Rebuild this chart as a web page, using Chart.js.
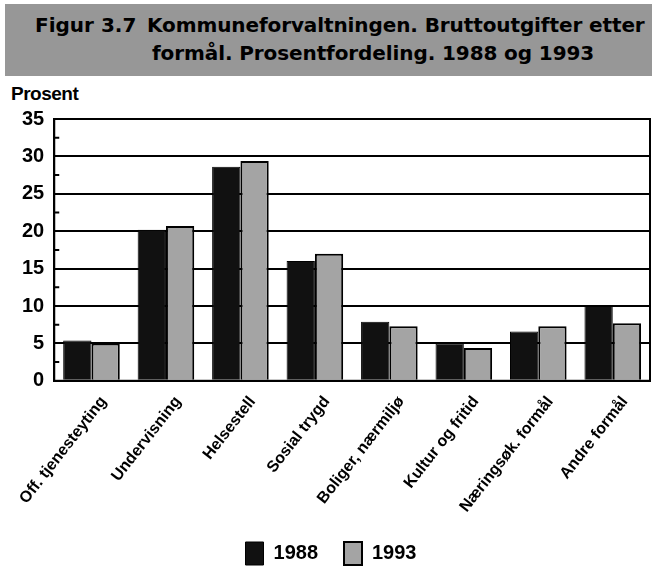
<!DOCTYPE html>
<html>
<head>
<meta charset="utf-8">
<script src="https://cdn.jsdelivr.net/npm/chart.js@4/dist/chart.umd.min.js"></script>
<style>
  body { margin: 0; background: #fff; width: 652px; height: 569px; overflow: hidden; position: relative; }
  #banner {
    position: absolute; left: 5px; top: 4px; width: 647px; height: 72px;
    background: #979797;
    font-family: "DejaVu Sans", sans-serif; font-weight: bold; font-size: 20px; color: #000;
  }
  #banner .fig { position: absolute; left: 30px; top: 9px; }
  #banner .l1 { position: absolute; left: 142px; top: 9px; letter-spacing: -0.1px; }
  #banner .l2 { position: absolute; left: 147px; top: 37px; letter-spacing: -0.1px; }
  #ylabel {
    position: absolute; left: 11px; top: 83px;
    font-family: "Liberation Sans", sans-serif; font-weight: bold; font-size: 19px; letter-spacing: -0.5px;
  }
  #wrap { position: absolute; left: 0; top: 75px; width: 652px; height: 494px; }
</style>
</head>
<body>
<div id="banner">
  <span class="fig">Figur 3.7</span>
  <span class="l1">Kommuneforvaltningen. Bruttoutgifter etter</span>
  <span class="l2">formål. Prosentfordeling. 1988 og 1993</span>
</div>
<div id="ylabel">Prosent</div>
<div id="wrap"><canvas id="chart"></canvas></div>
<script>
// kategorier og verdier (prosent)
const categories = ['Off. tjenesteyting', 'Undervisning', 'Helsestell', 'Sosial trygd',
  'Boliger, nærmiljø', 'Kultur og fritid', 'Næringsøk. formål', 'Andre formål'];
const values1988 = [5.4, 20.2, 28.6, 16.0, 7.9, 5.0, 6.6, 10.0];
const values1993 = [5.0, 20.7, 29.4, 17.0, 7.3, 4.4, 7.3, 7.7];
const yTicks = [0, 5, 10, 15, 20, 25, 30, 35];

const fontFam = '"Liberation Sans", Arial, sans-serif';

// ramme rundt plottet + små hjelpestreker på y-aksen
const framePlugin = {
  id: 'frame',
  afterDraw(chart) {
    const { ctx, chartArea: a, scales } = chart;
    ctx.save();
    ctx.strokeStyle = '#000';
    ctx.lineWidth = 2;
    ctx.strokeRect(a.left, a.top, a.right - a.left, a.bottom - a.top);
    ctx.beginPath();
    for (let i = 0; i < yTicks.length - 1; i++) {
      const y = scales.y.getPixelForValue((yTicks[i] + yTicks[i + 1]) / 2);
      ctx.moveTo(a.left, y);
      ctx.lineTo(a.left + 5, y);
    }
    ctx.stroke();
    ctx.restore();
  }
};

new Chart(document.getElementById('chart'), {
  type: 'bar',
  data: {
    labels: categories,
    datasets: [
      { label: '1988', data: values1988, backgroundColor: '#111', borderColor: '#000', borderWidth: 1 },
      { label: '1993', data: values1993, backgroundColor: '#a4a4a4', borderColor: '#000', borderWidth: 2 }
    ]
  },
  options: {
    responsive: true,
    maintainAspectRatio: false,
    animation: false,
    layout: { padding: { top: 44, left: 12, right: 2, bottom: -6 } },
    datasets: { bar: { categoryPercentage: 0.76, barPercentage: 1.0 } },
    scales: {
      x: {
        grid: { display: false },
        border: { color: '#000', width: 2 },
        afterFit(axis) { axis.height -= 4; },
        ticks: {
          color: '#000', maxRotation: 52, minRotation: 52, padding: 4, labelOffset: 12,
          font: { family: fontFam, size: 16, weight: 'bold' }
        }
      },
      y: {
        min: 0, max: 35,
        afterBuildTicks(axis) { axis.ticks = yTicks.map(v => ({ value: v })); },
        grid: { color: '#000', lineWidth: 2, drawTicks: false },
        border: { color: '#000', width: 2 },
        ticks: {
          color: '#000', padding: 10,
          font: { family: fontFam, size: 20, weight: 'bold' }
        }
      }
    },
    plugins: {
      legend: {
        position: 'bottom',
        labels: {
          color: '#000', boxWidth: 18, boxHeight: 23, padding: 26,
          font: { family: fontFam, size: 20, weight: 'bold' }
        }
      },
      tooltip: { enabled: false }
    }
  },
  plugins: [framePlugin]
});
</script>
</body>
</html>
